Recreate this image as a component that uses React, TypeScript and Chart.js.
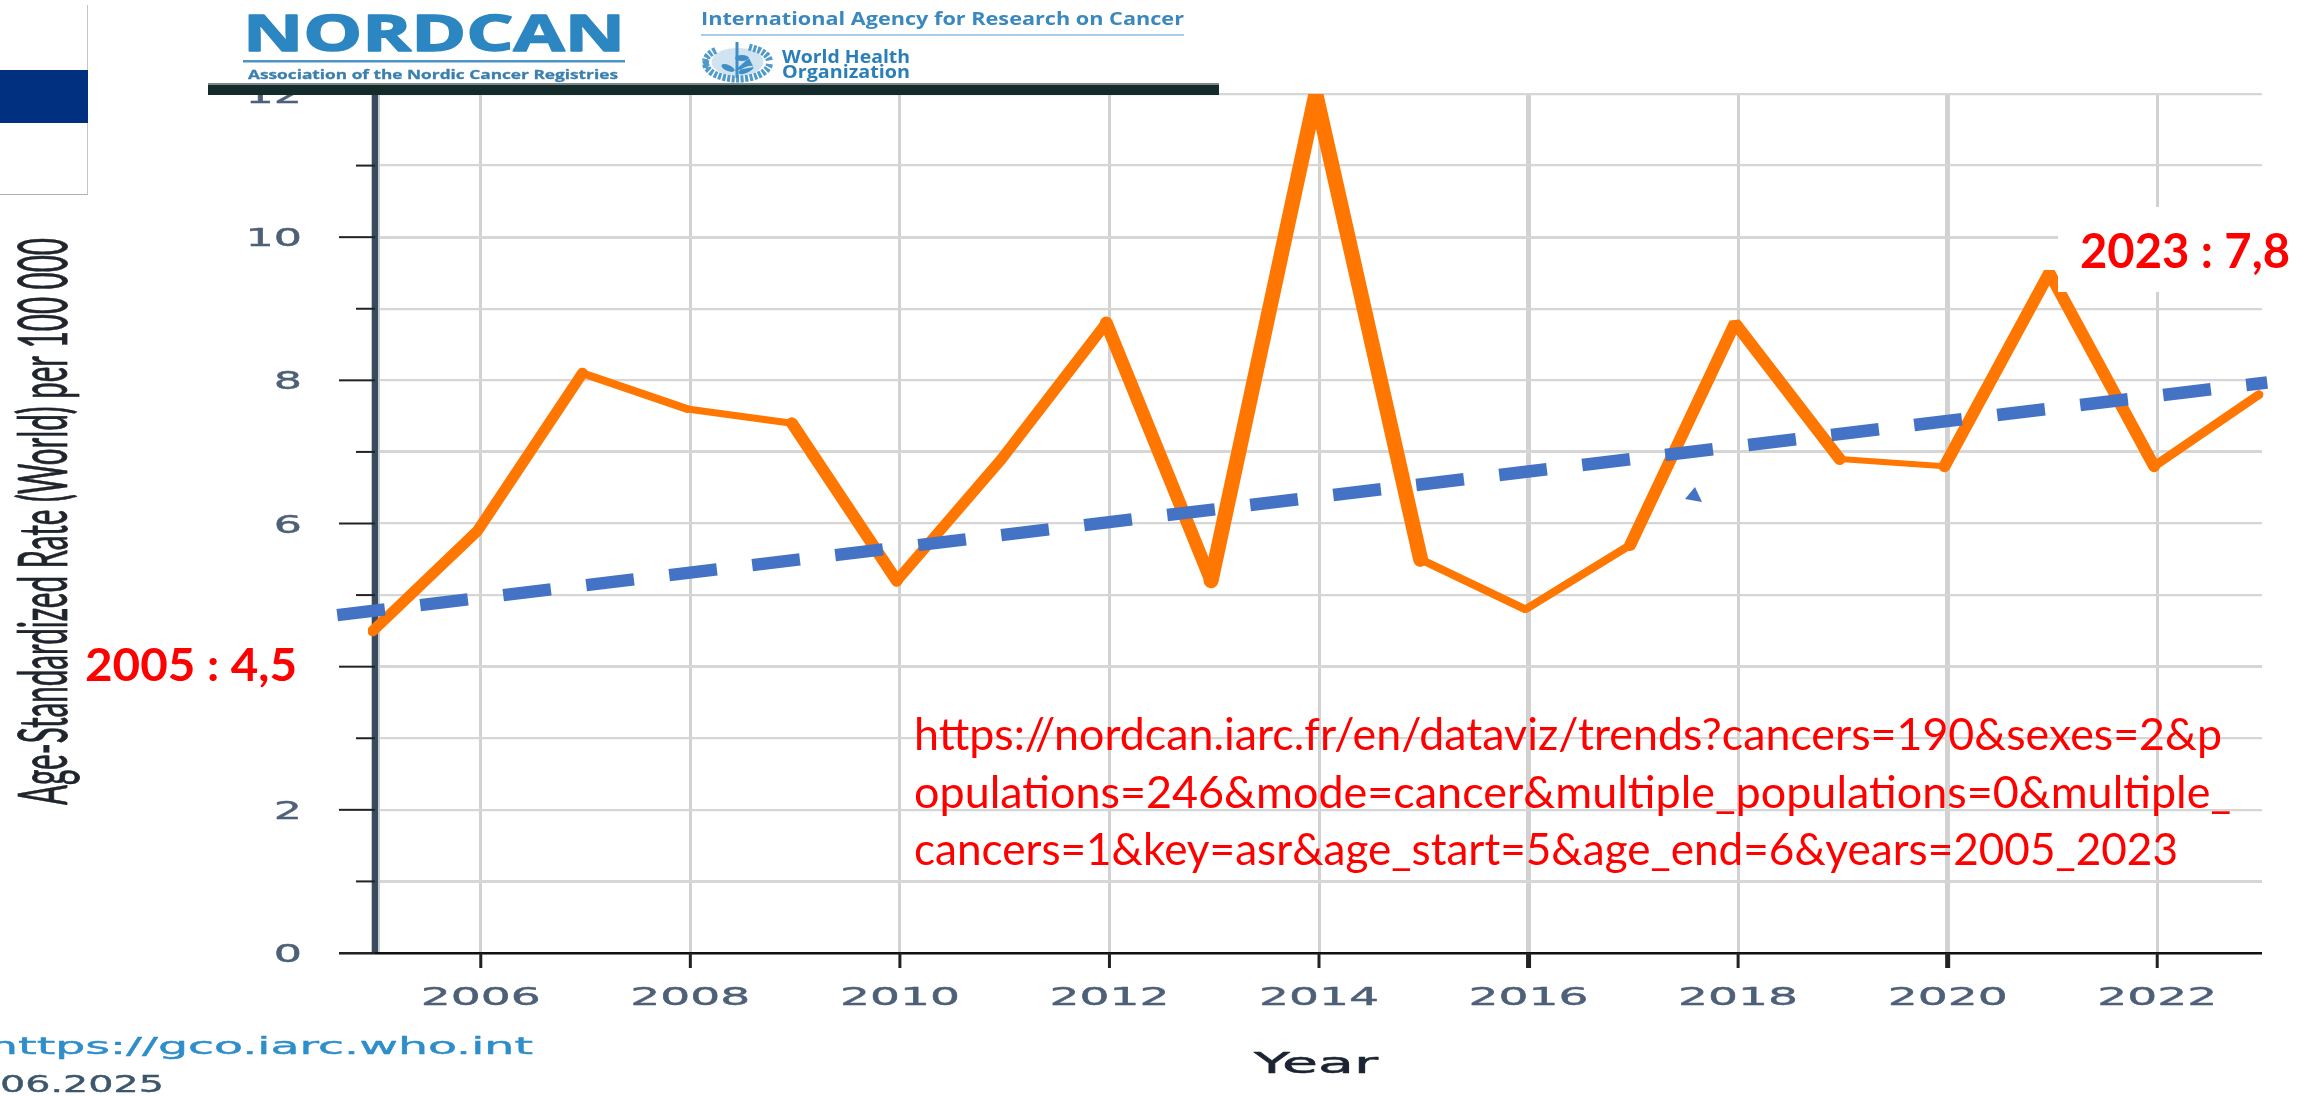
import React, { useEffect, useRef } from "react";
import { Chart, registerables } from "chart.js";

Chart.register(...registerables);

const years = [2005, 2006, 2007, 2008, 2009, 2010, 2011, 2012, 2013, 2014, 2015, 2016, 2017, 2018, 2019, 2020, 2021, 2022, 2023];
const rates = [4.5, 5.9, 8.1, 7.6, 7.4, 5.2, 6.9, 8.8, 5.2, 12, 5.5, 4.8, 5.7, 8.8, 6.9, 6.8, 9.5, 6.8, 7.8];
const trendYears = [2004.63, 2023.05];
const trendRates = [4.72, 7.97];
const xTickYears = [2006, 2008, 2010, 2012, 2014, 2016, 2018, 2020, 2022];
const urlLines = [
  "https://nordcan.iarc.fr/en/dataviz/trends?cancers=190&sexes=2&p",
  "opulations=246&mode=cancer&multiple_populations=0&multiple_",
  "cancers=1&key=asr&age_start=5&age_end=6&years=2005_2023",
];

const segmentWidths = [11, 11, 8, 7, 12, 11, 11, 13, 15, 15, 8, 8, 12, 12, 6, 12, 12, 9];

type FitOpts = { font: string; color: string; width?: number; sx?: number; align?: "left" | "center" | "right"; bold?: number };

function put(ctx: CanvasRenderingContext2D, text: string, x: number, y: number, o: FitOpts) {
  ctx.save();
  ctx.font = o.font;
  ctx.fillStyle = o.color;
  ctx.textBaseline = "alphabetic";
  ctx.textAlign = "left";
  const natural = ctx.measureText(text).width;
  const k = o.width ? o.width / natural : o.sx ?? 1;
  const w = natural * k;
  const left = o.align === "center" ? x - w / 2 : o.align === "right" ? x - w : x;
  ctx.translate(left, y);
  ctx.scale(k, 1);
  ctx.fillText(text, 0, 0);
  if (o.bold) {
    ctx.strokeStyle = o.color;
    ctx.lineWidth = o.bold;
    ctx.lineJoin = "round";
    ctx.strokeText(text, 0, 0);
  }
  ctx.restore();
}

function rect(ctx: CanvasRenderingContext2D, x: number, y: number, w: number, h: number, c: string) {
  ctx.fillStyle = c;
  ctx.fillRect(x, y, w, h);
}

const soft = "blur(0.6px)";

const overlay = {
  id: "overlay",
  beforeDatasetsDraw(chart: any) {
    const ctx: CanvasRenderingContext2D = chart.ctx;
    const xs = chart.scales.x;
    const ys = chart.scales.y;
    const area = chart.chartArea;
    ctx.save();

    // axis lines and tick marks
    rect(ctx, area.left - 5, area.top, 9, area.bottom - area.top, "#c3cad2");
    rect(ctx, area.left - 4, area.top, 6, area.bottom - area.top, "#3b4b5e");
    rect(ctx, 339, area.bottom - 1, area.right - 339, 2.5, "#111");
    ys.ticks.forEach((t: any) => {
      const py = ys.getPixelForValue(t.value);
      const major = t.value % 2 === 0;
      rect(ctx, major ? 339 : 356, py - 1, major ? 36 : 19, 2, "#222");
      ctx.filter = soft;
      if (t.label) put(ctx, String(t.label), 302, py + 9, { font: "24px 'DejaVu Sans'", color: "#4d6078", sx: 1.85, align: "right", bold: 0.4 });
      ctx.filter = "none";
    });
    xs.ticks.forEach((t: any) => {
      const px = xs.getPixelForValue(t.value);
      const w = t.value === 2016 || t.value === 2020 ? 5 : 3;
      rect(ctx, px - w / 2, area.bottom, w, 15, "#222");
      ctx.filter = soft;
      put(ctx, String(t.label), px, 1005, { font: "24px 'DejaVu Sans'", color: "#4d6078", width: 120, align: "center", bold: 0.4 });
      ctx.filter = "none";
    });

    // axis titles
    ctx.filter = soft;
    put(ctx, xs.options.title.text, 1316, 1073, { font: "28px 'DejaVu Sans'", color: "#1c2433", width: 124, align: "center", bold: 0.5 });
    ctx.save();
    ctx.translate(67, 805);
    ctx.rotate(-Math.PI / 2);
    put(ctx, ys.options.title.text, 0, 0, { font: "68px Lato", color: "#20242c", width: 567, bold: 0.8 });
    ctx.restore();
    ctx.filter = "none";
    ctx.restore();
  },
  afterDraw(chart: any) {
    const ctx: CanvasRenderingContext2D = chart.ctx;
    ctx.save();

    // small stray triangle
    ctx.fillStyle = "#4472c4";
    ctx.beginPath();
    ctx.moveTo(1695, 487);
    ctx.lineTo(1685, 499);
    ctx.lineTo(1702, 502);
    ctx.closePath();
    ctx.fill();

    // white patches + end labels
    rect(ctx, 2058, 207, 255, 85, "#fff");
    put(ctx, "2023 : 7,8", 2080, 268, { font: "bold 48px Lato", color: "#ff0000", width: 210 });
    rect(ctx, 80, 638, 240, 54, "#fff");
    put(ctx, "2005 : 4,5", 85, 681, { font: "bold 46px Lato", color: "#ff0000", width: 212 });

    // url text
    const urlWidths = [1308, 1317, 1264];
    urlLines.forEach((l, i) => {
      put(ctx, l, 914, 750 + i * 57.5, { font: "44px Lato", color: "#ff0000", width: urlWidths[i] });
    });

    // header
    rect(ctx, 208, 0, 1011, 83, "#fff");
    rect(ctx, 208, 83, 1011, 2, "#7d8a88");
    rect(ctx, 208, 85, 1011, 10, "#132c2b");
    const blue = "#2b86c1";
    ctx.filter = soft;
    put(ctx, "NORDCAN", 243, 51, { font: "bold 50px 'Open Sans'", color: blue, width: 382, bold: 1.5 });
    rect(ctx, 243, 60, 382, 2.5, "#4d94c4");
    put(ctx, "Association of the Nordic Cancer Registries", 248, 79, { font: "bold 13px 'Open Sans'", color: "#3b7fae", width: 370, bold: 0.3 });
    put(ctx, "International Agency for Research on Cancer", 701, 25, { font: "bold 18px 'Open Sans'", color: "#3a88bd", width: 483 });
    rect(ctx, 701, 34, 483, 2, "#a9cde6");
    put(ctx, "World Health", 782, 63, { font: "bold 18px 'Open Sans'", color: "#2b7fb8", width: 128 });
    put(ctx, "Organization", 782, 78, { font: "bold 18px 'Open Sans'", color: "#2b7fb8", width: 128 });

    // emblem
    ctx.fillStyle = "#cfe3f1";
    ctx.beginPath();
    ctx.ellipse(737.5, 62, 26, 14, 0, 0, Math.PI * 2);
    ctx.fill();
    ctx.strokeStyle = "#4f9aca";
    ctx.lineWidth = 7;
    ctx.setLineDash([3, 1.5]);
    ctx.beginPath();
    ctx.ellipse(737.5, 63, 32, 16, 0, Math.PI * 0.02, Math.PI * 0.98);
    ctx.moveTo(705, 60);
    ctx.ellipse(737.5, 62, 32, 16, 0, Math.PI * 1.02, Math.PI * 1.28);
    ctx.moveTo(749, 47);
    ctx.ellipse(737.5, 62, 32, 16, 0, Math.PI * 1.72, Math.PI * 1.98);
    ctx.stroke();
    ctx.setLineDash([]);
    ctx.strokeStyle = "#3f8fc6";
    ctx.lineWidth = 3;
    ctx.beginPath();
    ctx.moveTo(737, 42);
    ctx.lineTo(737, 78);
    ctx.stroke();
    ctx.fillStyle = "#3f8fc6";
    ctx.beginPath();
    ctx.ellipse(728, 68, 7, 3, 0.4, 0, Math.PI * 2);
    ctx.ellipse(746, 70, 8, 3, -0.4, 0, Math.PI * 2);
    ctx.ellipse(742, 58, 7, 3, 0, 0, Math.PI * 2);
    ctx.fill();
    ctx.filter = "none";

    // flag fragment
    rect(ctx, 0, 0, 88, 195, "#fff");
    rect(ctx, 87, 5, 1, 190, "#c4c4c4");
    rect(ctx, 0, 194, 88, 1, "#b0b0b0");
    rect(ctx, 0, 70, 88, 53, "#00307f");

    // source text, bottom-left
    put(ctx, "https://gco.iarc.who.int", -12, 1054, { font: "23px 'DejaVu Sans'", color: "#2e8ec9", width: 545, bold: 0.4 });
    put(ctx, "06.2025", 0, 1092, { font: "23px 'DejaVu Sans'", color: "#3c566c", width: 164, bold: 0.4 });

    ctx.restore();
  },
};

export default function App() {
  const ref = useRef<HTMLCanvasElement | null>(null);

  useEffect(() => {
    document.body.style.margin = "0";
    const chart = new Chart(ref.current as HTMLCanvasElement, {
      type: "line",
      data: {
        datasets: [
          {
            label: "Trend",
            data: trendYears.map((x, i) => ({ x, y: trendRates[i] })),
            borderColor: "#4472c4",
            borderWidth: 12.5,
            borderDash: [48, 35.6],
            borderCapStyle: "butt",
            pointRadius: 0,
            clip: false,
            order: 0,
          },
          {
            label: "Age-Standardized Rate",
            xAxisID: "xLine",
            data: years.map((x, i) => ({ x, y: rates[i] })),
            borderColor: "#ff7700",
            borderWidth: 11,
            borderJoinStyle: "bevel",
            borderCapStyle: "round",
            pointRadius: 0,
            clip: { left: 8, right: 5, top: 0, bottom: 5 },
            segment: { borderWidth: (c: any) => segmentWidths[c.p0DataIndex] },
            order: 1,
          },
        ],
      } as any,
      options: {
        responsive: false,
        animation: false,
        layout: { padding: { left: 376, right: 51, top: 94, bottom: 143 } },
        plugins: { legend: { display: false }, tooltip: { enabled: false } },
        scales: {
          x: {
            type: "linear",
            min: 2005,
            max: 2023,
            afterBuildTicks: (s: any) => {
              s.ticks = xTickYears.map((value) => ({ value }));
            },
            title: { display: false, text: "Year" },
            border: { display: false },
            grid: {
              drawTicks: false,
              color: "#d2d2d2",
              lineWidth: (c: any) => (c.tick && (c.tick.value === 2016 || c.tick.value === 2020) ? 5 : 3),
            },
            ticks: { display: false, callback: (v: any) => String(v) },
          },
          xLine: {
            type: "linear",
            position: "bottom",
            display: false,
            min: 2005.03,
            max: 2023.03,
          },
          y: {
            min: 0,
            max: 12,
            title: { display: false, text: "Age-Standardized Rate (World) per 100 000" },
            border: { display: false },
            grid: {
              drawTicks: false,
              color: "#d6d6d6",
              lineWidth: (c: any) => (c.tick && c.tick.value % 3 === 1 ? 3 : 2.2),
            },
            ticks: { display: false, stepSize: 1, callback: (v: any) => (Number(v) % 2 === 0 ? String(v) : "") },
          },
        },
      } as any,
      plugins: [overlay],
    });
    return () => chart.destroy();
  }, []);

  return (
    <div style={{ position: "absolute", left: 0, top: 0, width: 2313, height: 1096, overflow: "hidden", background: "#fff" }}>
      <canvas ref={ref} width={2313} height={1096} style={{ display: "block" }} />
    </div>
  );
}
